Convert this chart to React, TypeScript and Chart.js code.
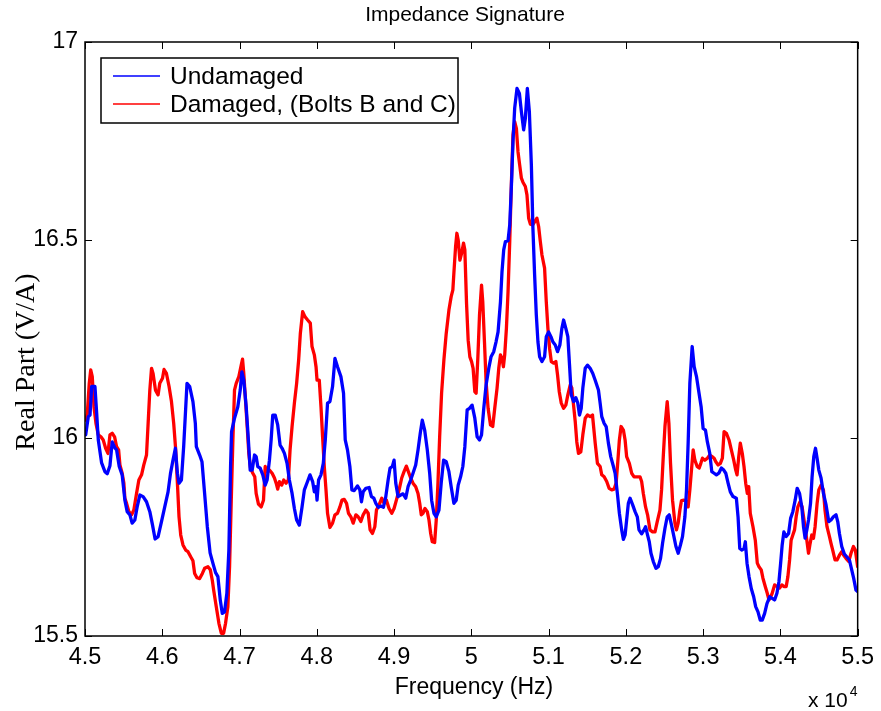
import React, { useEffect, useRef } from "react";
import { Chart, registerables } from "chart.js";

Chart.register(...registerables);

// Frequency values are in units of 10^4 Hz
const undamagedFreq = [
  4.5009, 4.5043, 4.5065, 4.5086, 4.5129, 4.5151, 4.5172, 4.5215, 4.5258, 4.5288,
  4.5323, 4.5352, 4.5387, 4.5409, 4.5443, 4.5481, 4.5516, 4.5546, 4.5581, 4.561,
  4.5645, 4.5675, 4.571, 4.5752, 4.5796, 4.5839, 4.5874, 4.5907, 4.5946, 4.599,
  4.6032, 4.6075, 4.6106, 4.6139, 4.617, 4.6196, 4.6217, 4.6248, 4.6277, 4.632,
  4.6355, 4.6397, 4.6428, 4.6441, 4.6484, 4.6514, 4.6548, 4.6583, 4.6619, 4.6655,
  4.669, 4.672, 4.6751, 4.6777, 4.6806, 4.6836, 4.6862, 4.6884, 4.6897, 4.6935,
  4.6978, 4.7009, 4.703, 4.7055, 4.7086, 4.7112, 4.7138, 4.7164, 4.7194, 4.7215,
  4.7236, 4.7267, 4.7301, 4.7332, 4.7357, 4.7387, 4.7409, 4.743, 4.7461, 4.7494,
  4.7525, 4.7551, 4.7581, 4.7615, 4.7645, 4.768, 4.771, 4.7739, 4.7774, 4.7809,
  4.7839, 4.7874, 4.7912, 4.7946, 4.7968, 4.799, 4.8003, 4.8023, 4.8054, 4.8084,
  4.811, 4.8139, 4.817, 4.8204, 4.8235, 4.8268, 4.8312, 4.8346, 4.8368, 4.8397,
  4.8428, 4.8454, 4.8484, 4.8526, 4.8557, 4.8578, 4.86, 4.8635, 4.8677, 4.8707,
  4.8738, 4.8764, 4.8797, 4.8828, 4.8862, 4.8893, 4.8923, 4.8948, 4.8978, 4.9,
  4.9022, 4.9052, 4.9086, 4.9116, 4.9151, 4.9181, 4.9215, 4.9245, 4.928, 4.931,
  4.9339, 4.9365, 4.9396, 4.943, 4.9461, 4.9486, 4.9516, 4.9546, 4.9581, 4.961,
  4.9641, 4.9675, 4.971, 4.9739, 4.9774, 4.9804, 4.983, 4.9861, 4.989, 4.9916,
  4.9946, 4.9977, 5.001, 5.0045, 5.0075, 5.0106, 5.0132, 5.0161, 5.0191, 5.0226,
  5.0255, 5.029, 5.032, 5.0346, 5.0377, 5.0397, 5.0419, 5.0441, 5.0475, 5.0497,
  5.0519, 5.0539, 5.0561, 5.0591, 5.0622, 5.0648, 5.0677, 5.0699, 5.0725, 5.0751,
  5.0777, 5.0797, 5.0819, 5.0841, 5.0862, 5.0884, 5.0914, 5.0948, 5.097, 5.1,
  5.103, 5.1055, 5.1086, 5.1116, 5.1146, 5.1172, 5.1194, 5.1223, 5.1249, 5.1271,
  5.1293, 5.1323, 5.1352, 5.1378, 5.14, 5.1422, 5.1443, 5.1474, 5.1503, 5.1538,
  5.1572, 5.1603, 5.1645, 5.1667, 5.1688, 5.1719, 5.1745, 5.1774, 5.1804, 5.1839,
  5.1861, 5.189, 5.1916, 5.1946, 5.1968, 5.199, 5.201, 5.2032, 5.2054, 5.2088,
  5.2119, 5.2148, 5.217, 5.2204, 5.2235, 5.2255, 5.2281, 5.2303, 5.2325, 5.2355,
  5.239, 5.2419, 5.2449, 5.2475, 5.2506, 5.2535, 5.2561, 5.2591, 5.2622, 5.2648,
  5.2677, 5.2707, 5.2733, 5.2764, 5.2785, 5.2806, 5.2828, 5.2858, 5.2884, 5.2914,
  5.2944, 5.2974, 5.3, 5.303, 5.3055, 5.3086, 5.3112, 5.3142, 5.3172, 5.3203,
  5.3236, 5.3267, 5.3293, 5.3323, 5.3352, 5.3387, 5.343, 5.3452, 5.3474, 5.3503,
  5.3529, 5.3546, 5.3568, 5.3594, 5.3623, 5.3654, 5.368, 5.371, 5.3739, 5.3765,
  5.3796, 5.3826, 5.3861, 5.3894, 5.3925, 5.3955, 5.3981, 5.4003, 5.4023, 5.4045,
  5.4075, 5.4106, 5.4132, 5.4161, 5.4191, 5.4217, 5.4248, 5.4277, 5.4299, 5.432,
  5.4342, 5.4364, 5.439, 5.441, 5.4432, 5.4454, 5.4475, 5.4497, 5.4526, 5.4557,
  5.4591, 5.4626, 5.4655, 5.4686, 5.472, 5.4742, 5.4764, 5.4794, 5.4828, 5.4858,
  5.4893, 5.4923, 5.4948, 5.4978, 5.5
];

const undamagedReal = [
  16.008, 16.054, 16.058, 16.13, 16.13, 16.063, 15.995, 15.937, 15.915, 15.91,
  15.93, 15.99, 15.975, 15.97, 15.928, 15.907, 15.843, 15.814, 15.806, 15.785,
  15.793, 15.826, 15.856, 15.852, 15.839, 15.814, 15.78, 15.745, 15.751, 15.789,
  15.826, 15.864, 15.91, 15.944, 15.974, 15.911, 15.886, 15.894, 15.978, 16.138,
  16.13, 16.092, 16.037, 15.978, 15.957, 15.94, 15.86, 15.776, 15.71, 15.684,
  15.66, 15.65, 15.59, 15.557, 15.561, 15.608, 15.717, 15.928, 16.016, 16.05,
  16.079, 16.121, 16.167, 16.146, 16.079, 16.003, 15.919, 15.919, 15.957, 15.953,
  15.928, 15.924, 15.907, 15.881, 15.894, 15.944, 15.995, 16.058, 16.058, 16.033,
  15.982, 15.974, 15.961, 15.936, 15.894, 15.86, 15.822, 15.793, 15.78, 15.826,
  15.869, 15.887, 15.907, 15.89, 15.864, 15.877, 15.843, 15.894, 15.907, 15.936,
  15.995, 16.088, 16.092, 16.13, 16.201, 16.18, 16.155, 16.113, 15.995, 15.97,
  15.928, 15.869, 15.867, 15.879, 15.869, 15.839, 15.864, 15.873, 15.875, 15.852,
  15.848, 15.835, 15.825, 15.828, 15.825, 15.852, 15.894, 15.924, 15.928, 15.944,
  15.886, 15.852, 15.856, 15.859, 15.848, 15.877, 15.894, 15.911, 15.932, 15.97,
  16.012, 16.045, 16.02, 15.97, 15.911, 15.843, 15.81, 15.801, 15.818, 15.886,
  15.944, 15.94, 15.915, 15.877, 15.835, 15.843, 15.881, 15.902, 15.928, 15.978,
  16.071, 16.075, 16.083, 16.05, 16.003, 15.995, 16.008, 16.075, 16.134, 16.176,
  16.205, 16.218, 16.243, 16.268, 16.344, 16.42, 16.475, 16.496, 16.498, 16.538,
  16.639, 16.748, 16.833, 16.883, 16.87, 16.824, 16.778, 16.807, 16.883, 16.824,
  16.689, 16.53, 16.412, 16.311, 16.243, 16.205, 16.193, 16.205, 16.256, 16.268,
  16.256, 16.243, 16.235, 16.218, 16.235, 16.277, 16.298, 16.277, 16.256, 16.184,
  16.109, 16.092, 16.102, 16.088, 16.058, 16.075, 16.126, 16.176, 16.184, 16.176,
  16.163, 16.146, 16.121, 16.088, 16.054, 16.037, 16.029, 15.987, 15.953, 15.928,
  15.911, 15.86, 15.81, 15.768, 15.744, 15.755, 15.793, 15.835, 15.848, 15.831,
  15.814, 15.801, 15.768, 15.758, 15.768, 15.776, 15.755, 15.738, 15.709, 15.688,
  15.671, 15.675, 15.696, 15.734, 15.772, 15.801, 15.806, 15.78, 15.751, 15.726,
  15.709, 15.73, 15.751, 15.801, 15.869, 15.987, 16.138, 16.231, 16.18, 16.155,
  16.117, 16.079, 16.024, 16.02, 15.99, 15.961, 15.915, 15.911, 15.907, 15.911,
  15.924, 15.919, 15.911, 15.886, 15.864, 15.852, 15.848, 15.801, 15.721, 15.717,
  15.721, 15.738, 15.684, 15.65, 15.62, 15.599, 15.574, 15.561, 15.54, 15.54,
  15.557, 15.582, 15.599, 15.595, 15.591, 15.608, 15.637, 15.684, 15.73, 15.763,
  15.751, 15.759, 15.797, 15.814, 15.843, 15.873, 15.86, 15.826, 15.776, 15.747,
  15.768, 15.793, 15.835, 15.902, 15.953, 15.974, 15.949, 15.919, 15.899, 15.86,
  15.831, 15.789, 15.793, 15.801, 15.806, 15.789, 15.759, 15.726, 15.707, 15.7,
  15.692, 15.667, 15.646, 15.616, 15.612
];

const damagedFreq = [
  4.5009, 4.503, 4.5055, 4.5074, 4.5094, 4.5116, 4.5142, 4.5172, 4.5206, 4.5236,
  4.5267, 4.5297, 4.5323, 4.5352, 4.5383, 4.5409, 4.5435, 4.5452, 4.5481, 4.5503,
  4.5516, 4.5538, 4.5568, 4.5603, 4.5632, 4.5667, 4.5697, 4.5732, 4.5761, 4.5796,
  4.5817, 4.5839, 4.5861, 4.5881, 4.5912, 4.5946, 4.5968, 4.6003, 4.6023, 4.6054,
  4.6088, 4.6119, 4.6148, 4.6174, 4.6196, 4.6217, 4.6239, 4.6268, 4.6303, 4.6333,
  4.6368, 4.6397, 4.6419, 4.6449, 4.6484, 4.6519, 4.6548, 4.6591, 4.6622, 4.6648,
  4.6665, 4.6699, 4.6733, 4.6764, 4.6794, 4.6819, 4.6849, 4.6871, 4.6893, 4.6914,
  4.6935, 4.6957, 4.6991, 4.7022, 4.7039, 4.7055, 4.7077, 4.7099, 4.712, 4.7142,
  4.7172, 4.7197, 4.7215, 4.7245, 4.728, 4.731, 4.7332, 4.7352, 4.7387, 4.7422,
  4.7452, 4.7474, 4.7494, 4.7516, 4.7546, 4.7572, 4.7603, 4.7632, 4.7654, 4.768,
  4.771, 4.7739, 4.7765, 4.7787, 4.7817, 4.7848, 4.7881, 4.7916, 4.7938, 4.7968,
  4.799, 4.8003, 4.8032, 4.8054, 4.8075, 4.8097, 4.8119, 4.8139, 4.817, 4.8204,
  4.8235, 4.8268, 4.8299, 4.8325, 4.8355, 4.8385, 4.841, 4.8441, 4.8471, 4.8506,
  4.8535, 4.857, 4.86, 4.8635, 4.8665, 4.869, 4.872, 4.8751, 4.8772, 4.8806,
  4.8841, 4.8871, 4.8901, 4.8935, 4.897, 4.9, 4.903, 4.9065, 4.9099, 4.9129,
  4.9159, 4.9185, 4.9215, 4.9245, 4.928, 4.931, 4.9332, 4.9352, 4.9374, 4.94,
  4.943, 4.9452, 4.9474, 4.9494, 4.9525, 4.9546, 4.9568, 4.959, 4.9615, 4.9645,
  4.9675, 4.971, 4.9739, 4.9761, 4.9774, 4.9796, 4.9813, 4.983, 4.9852, 4.9874,
  4.9899, 4.9916, 4.9938, 4.9959, 4.9981, 5.0003, 5.0023, 5.0045, 5.0062, 5.0084,
  5.0106, 5.0132, 5.0148, 5.017, 5.0191, 5.0217, 5.0248, 5.0277, 5.0303, 5.0333,
  5.0355, 5.0377, 5.0397, 5.0415, 5.0432, 5.0454, 5.0475, 5.0497, 5.0519, 5.0539,
  5.0561, 5.0583, 5.0604, 5.0626, 5.0648, 5.0668, 5.0699, 5.072, 5.0742, 5.0764,
  5.0794, 5.0819, 5.0849, 5.0871, 5.0893, 5.0914, 5.0948, 5.097, 5.0991, 5.1013,
  5.1035, 5.1065, 5.1094, 5.1116, 5.1138, 5.1164, 5.1194, 5.1223, 5.1249, 5.128,
  5.1301, 5.1323, 5.1345, 5.1365, 5.1387, 5.1417, 5.1443, 5.1474, 5.1503, 5.1538,
  5.1568, 5.1603, 5.1632, 5.1667, 5.1688, 5.1719, 5.1752, 5.1783, 5.1817, 5.1848,
  5.1874, 5.1894, 5.1916, 5.1938, 5.1968, 5.199, 5.201, 5.2045, 5.2075, 5.2106,
  5.2183, 5.2204, 5.2226, 5.2255, 5.2281, 5.2312, 5.2346, 5.2377, 5.2406, 5.2441,
  5.2462, 5.2484, 5.2506, 5.2535, 5.2557, 5.2578, 5.2604, 5.2635, 5.2655, 5.2677,
  5.2699, 5.272, 5.2751, 5.2785, 5.2806, 5.2828, 5.2849, 5.2871, 5.2893, 5.2923,
  5.2948, 5.297, 5.2991, 5.3022, 5.3055, 5.3086, 5.3116, 5.3142, 5.3164, 5.3194,
  5.3223, 5.3249, 5.3271, 5.3301, 5.3335, 5.3365, 5.3396, 5.3422, 5.3439, 5.3461,
  5.3481, 5.3507, 5.3529, 5.3551, 5.3572, 5.359, 5.361, 5.3645, 5.3675, 5.3701,
  5.3723, 5.3752, 5.3774, 5.3804, 5.383, 5.3852, 5.3874, 5.3894, 5.3925, 5.3955,
  5.399, 5.4019, 5.4045, 5.4075, 5.4097, 5.4119, 5.4139, 5.4161, 5.4183, 5.4204,
  5.4226, 5.4255, 5.4281, 5.4312, 5.4342, 5.4364, 5.4385, 5.4406, 5.4428, 5.4449,
  5.4475, 5.4497, 5.4526, 5.4557, 5.4577, 5.4603, 5.4635, 5.4655, 5.4677, 5.4707,
  5.4733, 5.4764, 5.4794, 5.4819, 5.4849, 5.4884, 5.4914, 5.4945, 5.497, 5.5
];

const damagedReal = [
  16.045, 16.062, 16.138, 16.172, 16.155, 16.079, 16.037, 16.008, 16.003, 15.995,
  15.974, 15.961, 16.008, 16.012, 16.003, 15.978, 15.97, 15.932, 15.911, 15.886,
  15.848, 15.835, 15.814, 15.806, 15.818, 15.86, 15.894, 15.907, 15.932, 15.957,
  16.037, 16.121, 16.176, 16.163, 16.121, 16.109, 16.138, 16.151, 16.173, 16.163,
  16.13, 16.092, 16.037, 15.97, 15.886, 15.801, 15.755, 15.73, 15.717, 15.713,
  15.7, 15.69, 15.658, 15.647, 15.645, 15.658, 15.671, 15.675, 15.667, 15.64,
  15.616, 15.574, 15.532, 15.507, 15.507, 15.532, 15.574, 15.675, 15.843, 15.995,
  16.121, 16.138, 16.155, 16.184, 16.199, 16.163, 16.096, 16.029, 15.961, 15.924,
  15.911, 15.902, 15.86, 15.833, 15.826, 15.843, 15.928, 15.915, 15.919, 15.911,
  15.899, 15.886, 15.871, 15.89, 15.881, 15.894, 15.886, 15.894, 15.97, 16.029,
  16.088, 16.138, 16.197, 16.264, 16.319, 16.306, 16.298, 16.29, 16.231, 16.21,
  16.18, 16.146, 16.146, 16.079, 16.003, 15.928, 15.869, 15.81, 15.774, 15.785,
  15.806, 15.81, 15.826, 15.843, 15.845, 15.835, 15.81, 15.801, 15.785, 15.806,
  15.801, 15.789, 15.806, 15.818, 15.81, 15.768, 15.759, 15.776, 15.818, 15.831,
  15.848, 15.835, 15.843, 15.822, 15.81, 15.822, 15.843, 15.869, 15.899, 15.915,
  15.929, 15.915, 15.899, 15.886, 15.877, 15.86, 15.835, 15.806, 15.81, 15.822,
  15.814, 15.793, 15.759, 15.738, 15.736, 15.793, 15.886, 16.003, 16.113, 16.197,
  16.264, 16.323, 16.357, 16.374, 16.416, 16.483, 16.517, 16.5, 16.449, 16.466,
  16.492, 16.475, 16.34, 16.247, 16.205, 16.193, 16.176, 16.117, 16.113, 16.201,
  16.311, 16.386, 16.344, 16.243, 16.142, 16.075, 16.033, 16.029, 16.075, 16.126,
  16.176, 16.21, 16.201, 16.18, 16.21, 16.277, 16.369, 16.496, 16.647, 16.765,
  16.799, 16.782, 16.723, 16.689, 16.656, 16.646, 16.635, 16.614, 16.555, 16.54,
  16.538, 16.546, 16.555, 16.534, 16.496, 16.462, 16.429, 16.344, 16.277, 16.226,
  16.193, 16.189, 16.193, 16.159, 16.117, 16.088, 16.075, 16.083, 16.109, 16.134,
  16.126, 16.083, 16.041, 15.99, 15.961, 15.965, 16.008, 16.05, 16.058, 16.054,
  16.058, 15.987, 15.936, 15.928, 15.907, 15.902, 15.89, 15.873, 15.869, 15.871,
  15.886, 15.936, 15.995, 16.029, 16.02, 15.995, 15.953, 15.936, 15.911, 15.902,
  15.902, 15.89, 15.86, 15.826, 15.806, 15.768, 15.763, 15.763, 15.789, 15.818,
  15.869, 15.953, 16.029, 16.092, 16.037, 15.936, 15.843, 15.785, 15.768, 15.785,
  15.818, 15.842, 15.843, 15.839, 15.826, 15.869, 15.919, 15.97, 15.944, 15.928,
  15.924, 15.936, 15.949, 15.944, 15.949, 15.957, 15.953, 15.949, 15.94, 15.932,
  15.936, 15.949, 16.016, 16.012, 15.995, 15.97, 15.944, 15.919, 15.907, 15.953,
  15.987, 15.961, 15.928, 15.886, 15.86, 15.877, 15.81, 15.776, 15.742, 15.684,
  15.675, 15.667, 15.646, 15.625, 15.608, 15.591, 15.599, 15.608, 15.629, 15.625,
  15.621, 15.629, 15.625, 15.625, 15.65, 15.692, 15.742, 15.755, 15.768, 15.801,
  15.826, 15.839, 15.826, 15.785, 15.742, 15.709, 15.734, 15.755, 15.747, 15.776,
  15.835, 15.869, 15.881, 15.869, 15.818, 15.776, 15.751, 15.734, 15.717, 15.692,
  15.692, 15.704, 15.713, 15.704, 15.696, 15.688, 15.709, 15.726, 15.717, 15.675
];

const xTickValues = [4.5, 4.6, 4.7, 4.8, 4.9, 5.0, 5.1, 5.2, 5.3, 5.4, 5.5];
const yTickValues = [15.5, 16, 16.5, 17];
const seriesNames = ["Undamaged", "Damaged, (Bolts B and C)"];
const seriesColors = ["#0000ff", "#ff0000"];
const titleText = "Impedance Signature";
const xAxisTitle = "Frequency (Hz)";
const yAxisTitle = "Real Part (V/A)";
const xExponentBase = "x 10";
const xExponent = "4";

const W = 881;
const H = 711;
const PLOT = { left: 85, right: 860, top: 42, bottom: 636 };
const SANS = '"Liberation Sans", Arial, Helvetica, sans-serif';
const SERIF = '"Liberation Serif", "Times New Roman", serif';

const toPoints = (xs: number[], ys: number[]) => xs.map((x, i) => ({ x, y: ys[i] }));

const fmtTick = (v: number) => String(Math.round(v * 10) / 10);

const decorPlugin = {
  id: "decor",
  afterDatasetsDraw(chart: any) {
    const { ctx, chartArea: a, scales } = chart;
    ctx.save();
    ctx.strokeStyle = "#000";
    ctx.lineWidth = 1;
    const tl = 7;
    ctx.beginPath();
    for (const v of xTickValues) {
      const px = Math.round(scales.x.getPixelForValue(v)) + 0.5;
      ctx.moveTo(px, a.bottom);
      ctx.lineTo(px, a.bottom - tl);
      ctx.moveTo(px, a.top);
      ctx.lineTo(px, a.top + tl);
    }
    for (const v of yTickValues) {
      const py = Math.round(scales.y.getPixelForValue(v)) + 0.5;
      ctx.moveTo(a.left, py);
      ctx.lineTo(a.left + tl, py);
      ctx.moveTo(a.right, py);
      ctx.lineTo(a.right - tl, py);
    }
    ctx.stroke();
    ctx.lineWidth = 1.5;
    ctx.strokeRect(a.left, a.top, a.right - a.left, a.bottom - a.top);

    // legend
    const lx = 101, ly = 58, lw = 357, lh = 65;
    ctx.fillStyle = "#fff";
    ctx.fillRect(lx, ly, lw, lh);
    ctx.lineWidth = 1.5;
    ctx.strokeRect(lx, ly, lw, lh);
    ctx.font = `24.5px ${SANS}`;
    ctx.textBaseline = "middle";
    ctx.textAlign = "left";
    const rows = [76, 104];
    seriesNames.forEach((name, i) => {
      ctx.strokeStyle = seriesColors[i];
      ctx.lineWidth = 1.5;
      ctx.beginPath();
      ctx.moveTo(113, rows[i]);
      ctx.lineTo(160, rows[i]);
      ctx.stroke();
      ctx.fillStyle = "#000";
      ctx.fillText(name, 170, rows[i] + 1);
    });
    ctx.restore();
  },
  afterDraw(chart: any) {
    const { ctx } = chart;
    ctx.save();
    ctx.fillStyle = "#000";
    ctx.textAlign = "center";
    ctx.textBaseline = "middle";
    ctx.font = `21px ${SANS}`;
    ctx.fillText(titleText, 465, 15);
    ctx.font = `23px ${SANS}`;
    ctx.fillText(xAxisTitle, 474, 688);
    ctx.textAlign = "left";
    ctx.textBaseline = "alphabetic";
    ctx.font = `21px ${SANS}`;
    ctx.fillText(xExponentBase, 808, 707);
    const w = ctx.measureText(xExponentBase).width;
    ctx.font = `14px ${SANS}`;
    ctx.fillText(xExponent, 808 + w + 2, 696);
    ctx.translate(27, 362);
    ctx.rotate(-Math.PI / 2);
    ctx.textAlign = "center";
    ctx.textBaseline = "middle";
    ctx.font = `28px ${SERIF}`;
    ctx.fillText(yAxisTitle, 0, 0);
    ctx.restore();
  },
};

export default function App() {
  const canvasRef = useRef<HTMLCanvasElement | null>(null);

  useEffect(() => {
    const canvas = canvasRef.current;
    if (!canvas) return;
    const chart = new Chart(canvas, {
      type: "line",
      data: {
        datasets: [
          {
            label: seriesNames[0],
            data: toPoints(undamagedFreq, undamagedReal),
            borderColor: seriesColors[0],
            backgroundColor: seriesColors[0],
            borderWidth: 3.3,
            pointRadius: 0,
            tension: 0,
            borderJoinStyle: "round",
            borderCapStyle: "round",
          },
          {
            label: seriesNames[1],
            data: toPoints(damagedFreq, damagedReal),
            borderColor: seriesColors[1],
            backgroundColor: seriesColors[1],
            borderWidth: 3.3,
            pointRadius: 0,
            tension: 0,
            borderJoinStyle: "round",
            borderCapStyle: "round",
          },
        ],
      },
      options: {
        responsive: false,
        animation: false,
        devicePixelRatio: 1,
        parsing: false,
        layout: { padding: { left: 0, right: W - PLOT.right, top: PLOT.top, bottom: 0 } },
        plugins: {
          legend: { display: false },
          title: { display: false },
          tooltip: { enabled: false },
        },
        scales: {
          x: {
            type: "linear",
            min: 4.5,
            max: 5.5,
            afterBuildTicks: (s: any) => {
              s.ticks = xTickValues.map((v) => ({ value: v }));
            },
            afterFit: (s: any) => {
              s.height = H - PLOT.bottom;
            },
            grid: { display: false, drawTicks: false, tickLength: 0 },
            border: { display: false },
            ticks: {
              color: "#000",
              font: { family: SANS, size: 23.5 },
              padding: 7,
              maxRotation: 0,
              autoSkip: false,
              callback: (v: any) => fmtTick(Number(v)),
            },
          },
          y: {
            type: "linear",
            min: 15.5,
            max: 17,
            afterBuildTicks: (s: any) => {
              s.ticks = yTickValues.map((v) => ({ value: v }));
            },
            afterFit: (s: any) => {
              s.width = PLOT.left;
            },
            grid: { display: false, drawTicks: false, tickLength: 0 },
            border: { display: false },
            ticks: {
              color: "#000",
              font: { family: SANS, size: 23 },
              padding: 7,
              autoSkip: false,
              callback: (v: any) => fmtTick(Number(v)),
            },
          },
        },
      },
      plugins: [decorPlugin],
    } as any);
    return () => chart.destroy();
  }, []);

  return (
    <div style={{ position: "fixed", left: 0, top: 0, width: W, height: H, background: "#fff" }}>
      <canvas ref={canvasRef} width={W} height={H} style={{ width: W, height: H, display: "block" }} />
    </div>
  );
}
